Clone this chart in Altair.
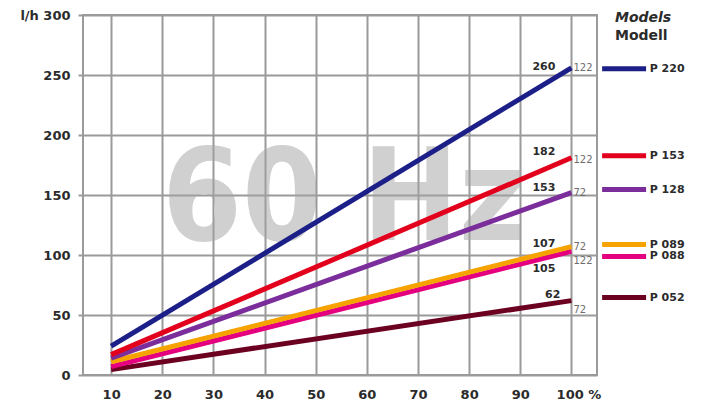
import altair as alt
import pandas as pd

# ---- data ----
models = ["P 220", "P 153", "P 128", "P 089", "P 088", "P 052"]
colors = ["#1c1f88", "#e2001c", "#7a2d9b", "#f6a300", "#e4007e", "#6b0020"]
flow_at_10 = [24, 17, 14, 11, 7, 4.5]
flow_at_100 = [256, 181, 152, 107, 103, 62]
value_labels = ["260", "182", "153", "107", "105", "62"]
side_labels = ["122", "122", "72", "72", "122", "72"]
x_ticks = [10, 20, 30, 40, 50, 60, 70, 80, 90, 100]
y_ticks = [0, 50, 100, 150, 200, 250, 300]

line_rows = []
for m, a, b in zip(models, flow_at_10, flow_at_100):
    line_rows.append({"model": m, "pct": 10, "flow": a})
    line_rows.append({"model": m, "pct": 100, "flow": b})
lines_df = pd.DataFrame(line_rows)
ends_df = pd.DataFrame({
    "model": models,
    "pct": [100] * len(models),
    "flow": flow_at_100,
    "vlabel": value_labels,
    "slabel": side_labels,
})

FONT = "DejaVu Sans"
TXT = "#2b2b2b"
GRID = "#9a9a9a"

xscale = alt.Scale(domain=[4.5, 105], nice=False, zero=False)
yscale = alt.Scale(domain=[0, 300], nice=False, zero=True)
color_scale = alt.Scale(domain=models, range=colors)

xaxis = alt.Axis(
    values=x_ticks, title=None, domain=False, ticks=False, grid=True,
    gridColor=GRID, gridWidth=2, labelFont=FONT, labelFontWeight="bold",
    labelFontSize=13, labelColor=TXT, labelPadding=13,
    labelExpr="datum.value == 100 ? '100 %' : datum.label",
    labelOffset={"condition": {"test": "datum.value == 100", "value": 7}, "value": 0},
)
yaxis = alt.Axis(
    values=y_ticks, title=None, domain=False, ticks=True, tickSize=5,
    tickColor=GRID, tickWidth=2, grid=True, gridColor=GRID, gridWidth=2,
    labelFont=FONT, labelFontWeight="bold", labelFontSize=13, labelColor=TXT,
    labelPadding=8,
    labelExpr="datum.value == 300 ? 'l/h 300' : datum.label",
)

base_lines = alt.Chart(lines_df)
base_ends = alt.Chart(ends_df)

# axes carrier (invisible)
axes = base_lines.mark_point(opacity=0).encode(
    x=alt.X("pct:Q", scale=xscale, axis=xaxis),
    y=alt.Y("flow:Q", scale=yscale, axis=yaxis),
)

# watermark
watermark = alt.Chart(pd.DataFrame({"t": ["60 Hz"]})).mark_text(
    font="DejaVu Sans Condensed, DejaVu Sans", fontWeight="bold", fontSize=128,
    color="#a3a3a3", opacity=0.5, align="center", baseline="alphabetic",
).encode(x=alt.datum(55.5), y=alt.datum(112.5), text="t:N")

layers = [axes, watermark]

draw_order = ["P 052", "P 088", "P 089", "P 128", "P 153", "P 220"]
for m in draw_order:
    layers.append(
        base_lines.transform_filter(alt.datum.model == m).mark_line(
            strokeWidth=5, strokeCap="butt"
        ).encode(
            x=alt.X("pct:Q", scale=xscale),
            y=alt.Y("flow:Q", scale=yscale),
            color=alt.Color("model:N", scale=color_scale, legend=None),
        )
    )

# value labels (bold, left of the line end)
vlabel_dy = {"P 220": -1, "P 153": -6, "P 128": -5, "P 089": -3, "P 088": 18, "P 052": -6}
vlabel_dx = {"P 220": -16, "P 153": -16, "P 128": -16, "P 089": -16, "P 088": -16, "P 052": -11}
slabel_dy = {"P 220": 0, "P 153": 2, "P 128": 0, "P 089": 0, "P 088": 10, "P 052": 9}
legend_dy = {"P 220": 1, "P 153": -2, "P 128": -3, "P 089": -2, "P 088": 5, "P 052": -3}

for m in models:
    sub = base_ends.transform_filter(alt.datum.model == m)
    layers.append(
        sub.mark_text(font=FONT, fontWeight="bold", fontSize=11, color=TXT,
                      align="right", baseline="middle",
                      dx=vlabel_dx[m], dy=vlabel_dy[m]).encode(
            x=alt.X("pct:Q", scale=xscale), y=alt.Y("flow:Q", scale=yscale),
            text="vlabel:N")
    )
    layers.append(
        sub.mark_text(font=FONT, fontSize=10, color="#6e6e6e",
                      align="left", baseline="middle",
                      dx=2, dy=slabel_dy[m]).encode(
            x=alt.X("pct:Q", scale=xscale), y=alt.Y("flow:Q", scale=yscale),
            text="slabel:N")
    )
    # legend entries
    layers.append(
        sub.mark_rule(strokeWidth=5, yOffset=legend_dy[m]).encode(
            x=alt.datum(106), x2=alt.datum(114.6),
            y=alt.Y("flow:Q", scale=yscale),
            color=alt.Color("model:N", scale=color_scale, legend=None))
    )
    layers.append(
        sub.mark_text(font=FONT, fontWeight="bold", fontSize=11, color=TXT,
                      align="left", baseline="middle", dy=legend_dy[m]).encode(
            x=alt.datum(115.3), y=alt.Y("flow:Q", scale=yscale), text="model:N")
    )

header = alt.Chart(pd.DataFrame({"t": ["Models", "Modell"]}))
layers.append(
    header.transform_filter(alt.datum.t == "Models").mark_text(
        font=FONT, fontWeight="bold", fontStyle="italic", fontSize=14, color=TXT,
        align="left", baseline="middle").encode(
        x=alt.value(532), y=alt.value(3), text="t:N")
)
layers.append(
    header.transform_filter(alt.datum.t == "Modell").mark_text(
        font=FONT, fontWeight="bold", fontSize=14, color=TXT,
        align="left", baseline="middle").encode(
        x=alt.value(532), y=alt.value(21), text="t:N")
)

chart = alt.layer(*layers).properties(
    width=514, height=360,
    autosize=alt.AutoSizeParams(type="none"),
    padding={"left": 83, "top": 15, "right": 106, "bottom": 33},
    background="white",
).configure_view(stroke=GRID, strokeWidth=2)

chart.save("out.html", embed_options={"renderer": "svg", "actions": False})
